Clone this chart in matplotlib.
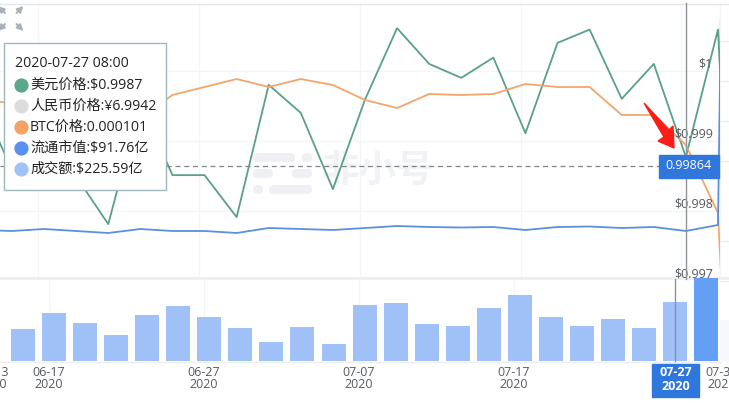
'''
Stablecoin price chart: price lines on top, traded volume bars below, with hover tooltip
'''
import matplotlib
matplotlib.use('Agg')
import matplotlib.pyplot as plt
from matplotlib.patches import FancyBboxPatch, Polygon, Rectangle

plt.rcParams['font.family'] = ['Open Sans', 'Noto Sans CJK SC', 'DejaVu Sans']

W, H = 729, 403

# one point every two days, the first and last run off the plot
usd_price = [0.99959, 0.99859, 0.99887, 0.99849, 0.99781, 0.99954, 0.99851, 0.99851, 0.99791,
             0.99980, 0.99940, 0.99831, 0.99959, 1.00061, 1.00010, 0.99990, 1.00019, 0.99911,
             1.00040, 1.00059, 0.99960, 1.00010, 0.99877, 1.00059, 0.99144]
btc_price = [104.15, 103.94, 103.59, 103.31, 103.10, 102.89, 104.50, 105.06, 105.62,
             105.06, 105.62, 105.20, 104.15, 103.59, 104.57, 104.50, 104.57, 105.27,
             105.06, 105.06, 103.10, 103.10, 101.00, 96.24, 51.44]
market_cap = [91.86, 91.76, 91.96, 91.76, 91.56, 91.96, 91.76, 91.76, 91.56,
              92.06, 91.96, 91.86, 92.06, 92.26, 92.16, 92.11, 92.16, 91.86,
              92.16, 92.21, 92.06, 92.16, 91.76, 92.36, 322.86]
volume = [122, 183, 145, 99, 176, 210, 168, 126, 73, 130, 65, 214, 222, 141, 134, 202, 252,
          168, 134, 160, 126, 225.59, 317]

usd_ticks = [0.997, 0.998, 0.999, 1.0]
usd_tick_labels = ['$0.997', '$0.998', '$0.999', '$1']
date_labels = ['06-13\n2020', '06-17\n2020', '06-27\n2020', '07-07\n2020', '07-17\n2020', '07-31\n2020']
date_label_px = [-7, 49, 204, 359, 514, 722]
tooltip_rows = [('美元价格:$0.9987', '#5aa88a'), ('人民币价格:¥6.9942', '#dcdcdc'),
                ('BTC价格:0.000101', '#f5a263'), ('流通市值:$91.76亿', '#5b8ff0'),
                ('成交额:$225.59亿', '#a0c2f8')]

GREEN, ORANGE, BLUE = '#5aa088', '#f4a56c', '#5b8fe0'
GRID = '#f3f5f7'


def axes_at(fig, left, top, right, bottom):
    ax = fig.add_axes([left / W, 1 - bottom / H, (right - left) / W, (bottom - top) / H])
    ax.patch.set_alpha(0)
    ax.axis('off')
    return ax


fig = plt.figure(figsize=(W / 100, H / 100), dpi=100, facecolor='white')

# overlay in pixel coordinates for the decorations
back = axes_at(fig, 0, 0, W, H)
back.set_xlim(0, W)
back.set_ylim(H, 0)
for x in [38, 199, 360, 521, 681, 720]:
    back.plot([x, x], [3, 277], color=GRID, lw=1, zorder=1)
for y in [71, 141, 211]:
    back.plot([0, 720], [y, y], color=GRID, lw=1, zorder=1)
for y in [41, 81, 121, 161, 241, 281, 321]:
    back.plot([720, W], [y, y], color='#eceef1', lw=1, zorder=1)
for x in [49, 204, 359, 514]:
    back.plot([x, x], [279, 361], color=GRID, lw=1, zorder=1)
back.plot([0, W], [3.5, 3.5], color='#e4e6e9', lw=1, zorder=1)
back.plot([0, W], [278, 278], color='#eeeff1', lw=2, zorder=1)
back.plot([0, 720], [361.5, 361.5], color='#eceef1', lw=1, zorder=1)
back.add_patch(Rectangle((720, 321), 9, 40, color='#f7f8fb', zorder=1))

# watermark logo
for x0, x1, y0 in [(253, 295, 153), (302, 312, 153), (253, 273, 169), (292, 312, 169),
                   (253, 263, 185), (269, 312, 185)]:
    back.add_patch(FancyBboxPatch((x0, y0), x1 - x0, 9, boxstyle='round,pad=0,rounding_size=4.5',
                                  ec='none', fc='#eef0f4', zorder=1))
back.text(378, 172, '非小号', fontsize=27, fontweight='bold', color='#f0f2f5',
          ha='center', va='center', zorder=1)

# prices, each with its own scale
idx = list(range(-1, len(usd_price) - 1))
top_px, bottom_px = 3, 278
ax = axes_at(fig, 0, top_px, 720, bottom_px)
xlim = (-12 / 32.09, (720 - 12) / 32.09)
ax.plot(idx, usd_price, color=GREEN, lw=1.3, zorder=4)
ax.set_xlim(*xlim)
ax.set_ylim(0.99704, 1.00097)

ax_btc = axes_at(fig, 0, top_px, 720, bottom_px)
ax_btc.plot(idx, btc_price, color=ORANGE, lw=1.3)
ax_btc.set_xlim(*xlim)
ax_btc.set_ylim(91.69, 110.94)

ax_cap = axes_at(fig, 0, top_px, 720, bottom_px)
ax_cap.plot(idx, market_cap, color=BLUE, lw=1.3)
ax_cap.set_xlim(*xlim)
ax_cap.set_ylim(87.06, 114.56)

ax_usd = axes_at(fig, 0, top_px, W, 281)
ax_usd.set_xlim(0, W)
ax_usd.set_ylim(0.997, 0.997 + 278 / 70000)
for v, label in zip(usd_ticks, usd_tick_labels):
    ax_usd.text(713, v, label, ha='right', va='bottom', fontsize=9, color='#555a60', clip_on=False)

# volume bars
ax_vol = axes_at(fig, 0, 278, W, 361)
bar_x = list(range(len(volume)))
bar_colors = ['#9fc1f7'] * (len(volume) - 1) + ['#659ff5']
ax_vol.bar(bar_x, volume, width=24 / 31.05, color=bar_colors)
ax_vol.set_xlim(-23 / 31.05, (W - 23) / 31.05)
ax_vol.set_ylim(0, 317)

# crosshair
front = axes_at(fig, 0, 0, W, H)
front.set_xlim(0, W)
front.set_ylim(H, 0)
front.plot([686.5, 686.5], [3, 279], color='#8f9296', lw=1, zorder=5)
front.plot([675.5, 675.5], [279, 361], color='#8f9296', lw=1, zorder=5)
front.plot([0, 660], [166, 166], color='#808488', lw=0.9, dashes=(4, 3), zorder=3)

# y cursor label
front.add_patch(Rectangle((659, 155), 60, 23, color='#2f76dd', zorder=6))
front.text(689, 165.5, '0.99864', color='white', fontsize=9, ha='center', va='center', zorder=7)

# date labels
for px, label in zip(date_label_px, date_labels):
    front.text(px, 378.5, label, fontsize=9, color='#555a60', ha='center', va='center',
               linespacing=1.0, zorder=5)
front.add_patch(Rectangle((652, 364), 47, 33, color='#2f76dd', zorder=6))
front.text(675.5, 379.5, '07-27\n2020', fontsize=9, color='white', fontweight='bold', ha='center',
           va='center', linespacing=1.0, zorder=7)

# red arrow
front.add_patch(Polygon([(644, 103), (669, 130), (673, 126), (674, 148), (658, 141), (664, 137)],
                        color='#fb1d16', zorder=8))

# expand icons
for x, y, dx, dy in [(2, 10, -1, -1), (19.5, 10, 1, -1), (2, 27, -1, 1), (19.5, 27, 1, 1)]:
    front.annotate('', xy=(x + dx * 4, y + dy * 4), xytext=(x - dx * 3, y - dy * 3),
                   annotation_clip=False,
                   arrowprops=dict(arrowstyle='-|>', color='#a9b2ba', lw=1.4, mutation_scale=9,
                                   shrinkA=0, shrinkB=0))

# tooltip
front.add_patch(Rectangle((4.5, 42.5), 162, 147, fc='white', ec='#9db7bd', lw=1, zorder=9))
front.text(15, 63.5, '2020-07-27 08:00', fontsize=10.2, color='#222', va='center', zorder=10)
for i, (label, color) in enumerate(tooltip_rows):
    y = 85 + i * 21
    front.scatter([21], [y], s=105, color=color, linewidths=0, zorder=10)
    front.text(30, y, label, fontsize=10.2, color='#222', va='center', zorder=10)

fig.savefig('out.png', dpi=100)
